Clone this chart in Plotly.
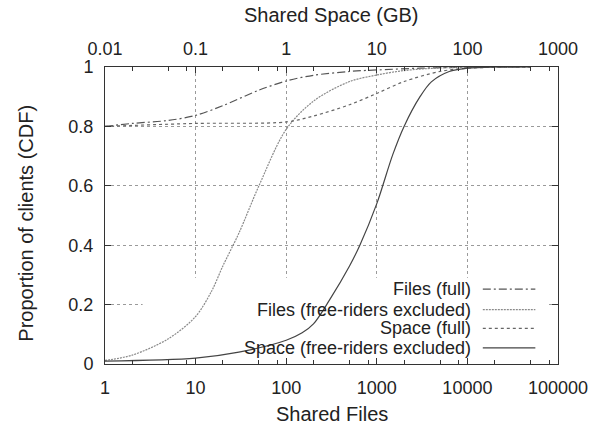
import plotly.graph_objects as go

# Shared files per client (bottom axis) and cumulative proportion of clients
files_full_x = [1, 2, 5, 10, 20, 50, 100, 200, 500, 1000, 3000, 10000, 50000]
files_full_y = [0.80, 0.81, 0.82, 0.837, 0.87, 0.922, 0.953, 0.972, 0.985, 0.99, 0.996, 0.999, 1.0]

files_excl_x = [1, 2, 5, 10, 15, 20, 30, 50, 100, 200, 500, 1000, 2000, 5000, 10000, 50000]
files_excl_y = [0.012, 0.03, 0.085, 0.16, 0.245, 0.33, 0.44, 0.60, 0.79, 0.885, 0.951, 0.973, 0.988, 0.997, 0.999, 1.0]

# Shared space per client in GB (top axis)
space_full_x = [0.01, 0.1, 1, 2, 5, 10, 20, 50, 100, 500]
space_full_y = [0.80, 0.81, 0.815, 0.835, 0.873, 0.911, 0.951, 0.985, 0.996, 1.0]

space_excl_x = [0.01, 0.1, 0.3, 1, 1.5, 2, 3, 5, 6.5, 10, 15, 20, 30, 40, 63, 100, 200, 500]
space_excl_y = [0.01, 0.02, 0.04, 0.08, 0.105, 0.135, 0.215, 0.33, 0.40, 0.54, 0.705, 0.80, 0.90, 0.95, 0.985, 0.996, 1.0, 1.0]

files_ticks = [1, 10, 100, 1000, 10000, 100000]
files_tick_text = ["1", "10", "100", "1000", "10000", "100000"]
space_ticks = [0.01, 0.1, 1, 10, 100, 1000]
space_tick_text = ["0.01", "0.1", "1", "10", "100", "1000"]
y_ticks = [0, 0.2, 0.4, 0.6, 0.8, 1]
y_tick_text = ["0", "0.2", "0.4", "0.6", "0.8", "1"]

series_names = [
    "Files (full)",
    "Files (free-riders excluded)",
    "Space (full)",
    "Space (free-riders excluded)",
]

FONT = "Liberation Sans, Arial, sans-serif"
INK = "#222222"

styles = [
    dict(color="#555555", dash="8px,3px,2px,3px"),
    dict(color="#8a8a8a", dash="2px,1px"),
    dict(color="#666666", dash="3px,3px"),
    dict(color="#444444", dash="solid"),
]

fig = go.Figure()

# Opaque key background: drawn as the first trace so it hides the grid
# but stays underneath the curves
fig.add_trace(go.Scatter(
    x=[2.6, 75000, 75000, 2.6, 2.6], y=[0.006, 0.006, 0.29, 0.29, 0.006],
    xaxis="x", yaxis="y", mode="lines", fill="toself", fillcolor="white",
    line=dict(width=0, color="white"), hoverinfo="skip", showlegend=False,
))

series = [
    (files_full_x, files_full_y, "x"),
    (files_excl_x, files_excl_y, "x"),
    (space_full_x, space_full_y, "x2"),
    (space_excl_x, space_excl_y, "x2"),
]
for (xs, ys, ax), name, st in zip(series, series_names, styles):
    fig.add_trace(go.Scatter(
        x=xs, y=ys, name=name, xaxis=ax, yaxis="y", mode="lines",
        line=dict(color=st["color"], dash=st["dash"], width=1.2, shape="spline", smoothing=0.9),
        showlegend=False,
    ))

minor_vals = [m * 10 ** k for k in range(-2, 6) for m in (2, 5, 8)]

axis_common = dict(
    type="log",
    showline=True, linecolor="#333333", linewidth=1,
    ticks="inside", ticklen=6, tickcolor="#333333",
    tickfont=dict(family=FONT, size=18, color=INK),
    zeroline=False,
)

fig.update_layout(
    width=600, height=428,
    margin=dict(l=105, r=37, t=67, b=64),
    paper_bgcolor="white", plot_bgcolor="white",
    font=dict(family=FONT, color=INK),
    xaxis=dict(
        **axis_common,
        range=[0, 5], mirror=True,
        tickmode="array", tickvals=files_ticks, ticktext=files_tick_text,
        showgrid=True, gridcolor="#9a9a9a", griddash="dot", gridwidth=1,
        ticklabelstandoff=7,
        minor=dict(tickmode="array", tickvals=[v for v in minor_vals if 1 <= v <= 100000],
                   ticks="inside", ticklen=4, tickcolor="#333333", showgrid=False),
    ),
    xaxis2=dict(
        **axis_common,
        range=[-2, 3], overlaying="x", side="top", anchor="y",
        tickmode="array", tickvals=space_ticks, ticktext=space_tick_text,
        showgrid=False,
        ticklabelstandoff=4,
        minor=dict(tickmode="array", tickvals=[v for v in minor_vals if 0.01 <= v <= 1000],
                   ticks="inside", ticklen=4, tickcolor="#333333", showgrid=False),
    ),
    yaxis=dict(
        range=[0, 1], showline=True, linecolor="#333333", linewidth=1, mirror="ticks",
        ticks="inside", ticklen=6, tickcolor="#333333",
        tickmode="array", tickvals=y_ticks, ticktext=y_tick_text,
        tickfont=dict(family=FONT, size=18, color=INK),
        showgrid=True, gridcolor="#9a9a9a", griddash="dot", gridwidth=1,
        zeroline=False, ticklabelstandoff=7,
    ),
)

# Axis titles
fig.add_annotation(text="Shared Files", xref="paper", yref="paper", x=0.5, y=-0.168,
                   showarrow=False, font=dict(family=FONT, size=20, color=INK), yanchor="middle")
fig.add_annotation(text="Shared Space (GB)", xref="paper", yref="paper", x=0.5, y=1.175,
                   showarrow=False, font=dict(family=FONT, size=20, color=INK), yanchor="middle")
fig.add_annotation(text="Proportion of clients (CDF)", xref="paper", yref="paper",
                   x=-0.175, y=0.475, textangle=-90, showarrow=False,
                   font=dict(family=FONT, size=20, color=INK), xanchor="center", yanchor="middle")

# Key: right-aligned labels followed by line samples
key_rows_y = [0.252, 0.183, 0.120, 0.054]
for name, st, ky in zip(series_names, styles, key_rows_y):
    fig.add_annotation(text=name, xref="paper", yref="paper", x=0.812, y=ky,
                       xanchor="right", yanchor="middle", showarrow=False,
                       font=dict(family=FONT, size=18, color=INK))
    fig.add_shape(type="line", xref="paper", yref="paper", x0=0.834, x1=0.95, y0=ky, y1=ky,
                  line=dict(color=st["color"], dash=st["dash"], width=1.2), layer="above")

fig.write_html("out.html")
